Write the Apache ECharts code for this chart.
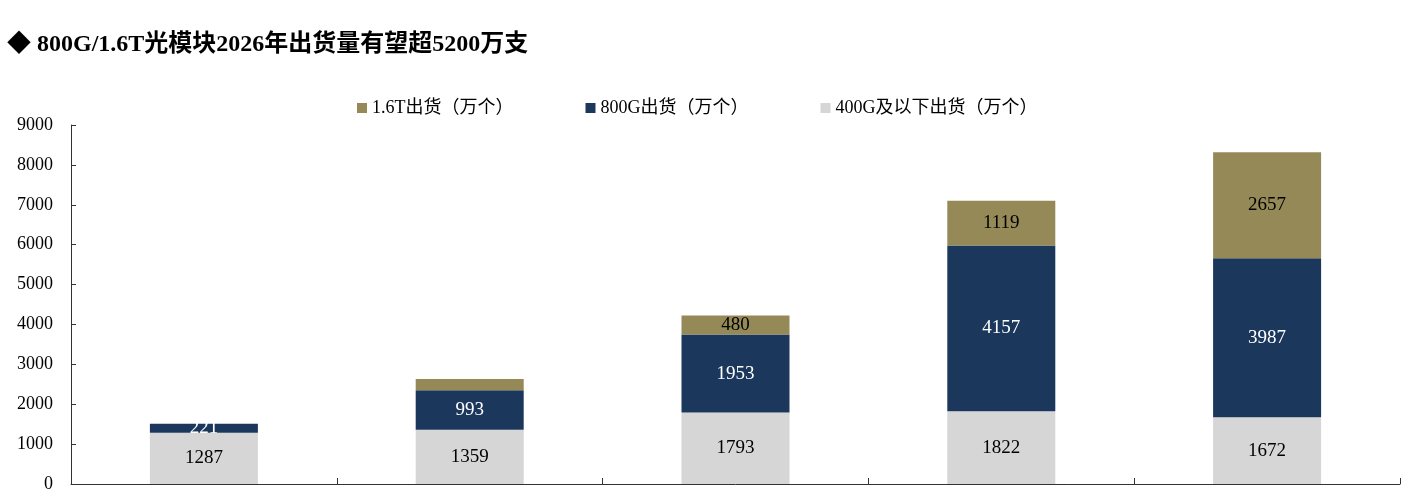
<!DOCTYPE html>
<html><head><meta charset="utf-8">
<script src="https://cdn.jsdelivr.net/npm/echarts@6/dist/echarts.min.js"></script>
<style>body{margin:0;background:#fff}#c{width:1414px;height:493px}</style>
</head><body><div id="c"></div>
<script>
const categories = ['2022','2023','2024','2025E','2026E'];
const s400 = [1287,1359,1793,1822,1672];
const s800 = [221,993,1953,4157,3987];
const s16 = [0,283,480,1119,2657];
const yTicks = [0,1000,2000,3000,4000,5000,6000,7000,8000,9000];
const font = '"Liberation Serif","Noto Sans CJK SC",serif';
const chart = echarts.init(document.getElementById('c'));
const lbl = (show) => ({show:true, color:'#000', fontFamily:font, fontSize:19,
  formatter: p => p.value>0 && p.value>=show ? p.value : ''});
chart.setOption({
  animation:false,
  title:{text:'◆ 800G/1.6T光模块2026年出货量有望超5200万支', left:2, top:28,
    textStyle:{fontFamily:font, fontSize:24, fontWeight:'bold', color:'#000'}},
  legend:{top:94, left:352, itemGap:72, itemWidth:10, itemHeight:10, icon:'rect',
    textStyle:{fontFamily:font, fontSize:18, color:'#000'},
    data:['1.6T出货（万个）','800G出货（万个）','400G及以下出货（万个）']},
  grid:{left:71, right:14, top:125, bottom:4},
  xAxis:{type:'category', data:categories, axisLabel:{show:false},
    axisLine:{lineStyle:{color:'#333'}}, axisTick:{show:true, interval:0, length:6, inside:true}},
  yAxis:{type:'value', min:0, max:9000, interval:1000, splitLine:{show:false},
    axisLine:{show:true, lineStyle:{color:'#333'}}, axisTick:{show:true, inside:true},
    axisLabel:{fontFamily:font, fontSize:18, color:'#000', margin:18,
      formatter: v => yTicks.includes(v) ? v : ''}},
  series:[
    {name:'400G及以下出货（万个）', type:'bar', stack:'a', barWidth:108, data:s400,
      itemStyle:{color:'#d6d6d6'}, label:{...lbl(0), color:'#000'}},
    {name:'800G出货（万个）', type:'bar', stack:'a', data:s800,
      itemStyle:{color:'#1b375c'}, label:{...lbl(0), color:'#fff'}},
    {name:'1.6T出货（万个）', type:'bar', stack:'a', data:s16,
      itemStyle:{color:'#958a57'}, label:lbl(400)}
  ]
});
</script></body></html>
